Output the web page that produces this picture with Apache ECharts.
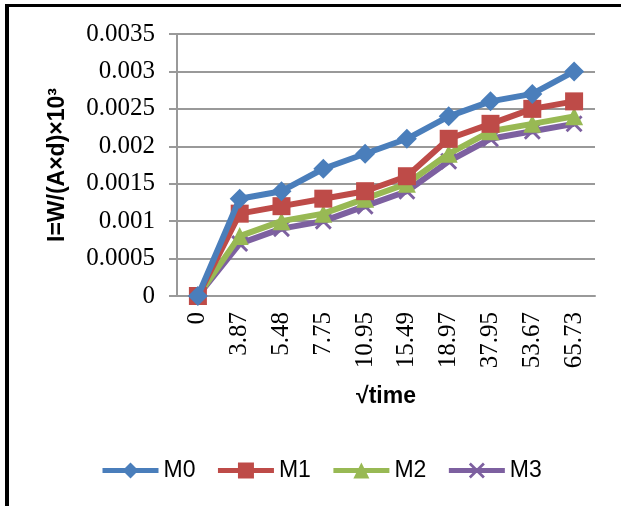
<!DOCTYPE html>
<html>
<head>
<meta charset="utf-8">
<script src="https://cdn.jsdelivr.net/npm/echarts@6/dist/echarts.min.js"></script>
<style>html,body{margin:0;padding:0;background:#fff;}#c{width:621px;height:506px;}</style>
</head>
<body>
<div id="c"></div>
<script>
var categories = ['0','3.87','5.48','7.75','10.95','15.49','18.97','37.95','53.67','65.73'];
var seriesNames = ['M0','M1','M2','M3'];
var m0 = [0, 0.0013, 0.0014, 0.0017, 0.0019, 0.0021, 0.0024, 0.0026, 0.0027, 0.0030];
var m1 = [0, 0.0011, 0.0012, 0.0013, 0.0014, 0.0016, 0.0021, 0.0023, 0.0025, 0.0026];
var m2 = [0, 0.0008, 0.0010, 0.0011, 0.0013, 0.0015, 0.0019, 0.0022, 0.0023, 0.0024];
var m3 = [0, 0.0007, 0.0009, 0.0010, 0.0012, 0.0014, 0.0018, 0.0021, 0.0022, 0.0023];
var yTicks = ['0','0.0005','0.001','0.0015','0.002','0.0025','0.003','0.0035'];

var colors = ['#4A7EBB','#BE4B48','#98B954','#7D60A0'];
var symbols = ['diamond','rect','triangle','path://M0,1.2L1.2,0L5,3.8L8.8,0L10,1.2L6.2,5L10,8.8L8.8,10L5,6.2L1.2,10L0,8.8L3.8,5Z'];
var sizes = [20, 18, 18, 17];
var data = [m0, m1, m2, m3];

var chart = echarts.init(document.getElementById('c'));
chart.setOption({
  animation: false,
  backgroundColor: '#fff',
  grid: {left: 177, right: 26, top: 34, bottom: 210},
  legend: {
    left: 95, top: 454,
    itemWidth: 56, itemHeight: 20, itemGap: 20,
    lineStyle: {width: 5},
    textStyle: {fontFamily: 'Liberation Sans', fontSize: 23, color: '#000'},
    data: seriesNames
  },
  xAxis: {
    type: 'category',
    data: categories,
    boundaryGap: true,
    name: '\u221Atime',
    nameLocation: 'middle',
    nameGap: 89,
    nameTextStyle: {fontFamily: 'Liberation Sans', fontWeight: 'bold', fontSize: 23, color: '#000'},
    axisLine: {show: true, lineStyle: {color: '#999', width: 2}},
    axisTick: {show: false},
    axisLabel: {rotate: 90, margin: 16, fontFamily: 'Liberation Serif', fontSize: 25, color: '#000'}
  },
  yAxis: {
    type: 'value',
    min: 0, max: 0.0035, interval: 0.0005,
    name: 'I=W/(A\u00D7d)\u00D710\u00B3',
    nameLocation: 'middle',
    nameGap: 108,
    nameTextStyle: {fontFamily: 'Liberation Sans', fontWeight: 'bold', fontSize: 23, color: '#000'},
    axisLine: {show: true, lineStyle: {color: '#999', width: 2}},
    axisTick: {show: true, length: 8, lineStyle: {color: '#999', width: 2}},
    splitLine: {show: true, lineStyle: {color: '#999', width: 2}},
    axisLabel: {
      margin: 22, fontFamily: 'Liberation Serif', fontSize: 25, color: '#000',
      formatter: function (v, i) { return yTicks[i]; }
    }
  },
  graphic: [
    {type: 'rect', shape: {x: 5, y: 4, width: 616, height: 3}, style: {fill: '#000'}},
    {type: 'rect', shape: {x: 5, y: 4, width: 4, height: 502}, style: {fill: '#000'}}
  ],
  series: seriesNames.map(function (n, i) {
    return {
      name: n, type: 'line', data: data[i],
      symbol: symbols[i], symbolSize: sizes[i],
      showAllSymbol: true,
      lineStyle: {color: colors[i], width: 6},
      itemStyle: {color: colors[i]},
      z: 10 - i
    };
  })
});
</script>
</body>
</html>
